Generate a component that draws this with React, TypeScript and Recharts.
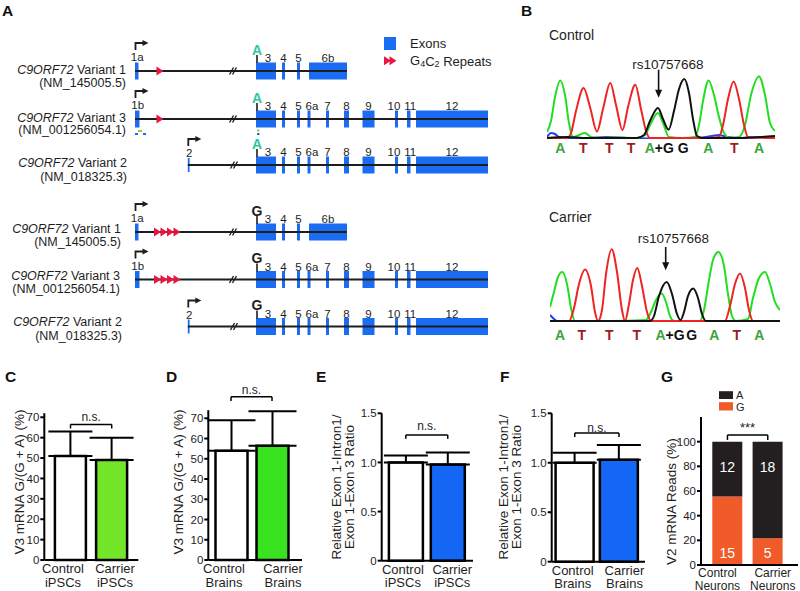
import React from 'react';
import {
  ComposedChart, LineChart, BarChart, Bar, Line, Scatter, XAxis, YAxis,
  ReferenceArea, ReferenceLine, ReferenceDot, ErrorBar, LabelList, Cell,
} from 'recharts';

const FONT = '"Liberation Sans", Arial, Helvetica, sans-serif';
const INK = '#1e1e1e';
const EXON_BLUE = '#1a6cf2';
const REPEAT_RED = '#e5173f';
const SNP_A = '#2fc79b';
const PRIMER_GREEN = '#9ad030';

// ---------------- Panel A: transcript diagrams ----------------
const trackNames = ['Variant 1', 'Variant 3', 'Variant 2', 'Variant 1', 'Variant 3', 'Variant 2'];
const trackAccessions = ['(NM_145005.5)', '(NM_001256054.1)', '(NM_018325.3)', '(NM_145005.5)', '(NM_001256054.1)', '(NM_018325.3)'];
const trackY = [71, 119, 165, 232, 279.5, 326.5];
const trackLayout = ['v1', 'v3', 'v2', 'v1', 'v3', 'v2'];
const trackAllele = ['A', 'A', 'A', 'G', 'G', 'G'];
const trackRepeatX = [[160], [160], [], [157.5, 164, 170.5, 177], [157.5, 164, 170.5, 177], []];
const trackLabelEnd = [126, 126, 127, 121, 120, 122];

const v1ExonNames = ['1a', '3', '4', '5', '6b'];
const v1ExonStart = [135, 256, 282, 297, 309];
const v1ExonEnd = [138.5, 276, 285, 300, 347];
const v3ExonNames = ['1b', '3', '4', '5', '6a', '7', '8', '9', '10', '11', '12'];
const v3ExonStart = [135, 256, 282, 297, 307.5, 326, 344, 362.5, 395, 407, 416];
const v3ExonEnd = [139.5, 276, 285, 300, 310.5, 329, 349, 374.5, 398, 410.5, 488];
const v2ExonNames = ['2', '3', '4', '5', '6a', '7', '8', '9', '10', '11', '12'];
const v2ExonStart = [187.8, 256, 282, 297, 307.5, 326, 344, 362.5, 395, 407, 416];
const v2ExonEnd = [189.6, 276, 285, 300, 310.5, 329, 349, 374.5, 398, 410.5, 488];
const exonLabelShift: Record<string, number> = { '3': 2, '6a': 3, '10': -2.5, '11': 1.5 };
const breakX: Record<string, number> = { v1: 232, v3: 232, v2: 233 };
const snpX = 257;

const primerX1 = [138, 135, 143, 257, 257];
const primerX2 = [142, 138, 146, 259.5, 259.5];
const primerY = [131, 134, 134, 130.5, 134];
const primerColor = [PRIMER_GREEN, EXON_BLUE, EXON_BLUE, PRIMER_GREEN, EXON_BLUE];

// ---------------- Panel B: chromatograms ----------------
const ctlGreen = [[0, 7], [4, 18], [8, 42], [13.3, 58.6], [18, 44], [22, 16], [26, 2], [32, 4], [38, 6], [44, 2], [52, 1], [70, 1.5], [90, 1], [98, 4], [104, 16], [111, 26], [116, 16], [122, 2], [135, 1], [148, 2], [152, 14], [156, 38], [161.6, 58.6], [167, 44], [172, 22], [177, 6], [183, 1], [192, 2], [198, 14], [204, 44], [212, 62.6], [218, 44], [223, 16], [228, 8]];
const ctlRed = [[0, 1], [20, 1], [24, 6], [29, 28], [36.6, 51], [43, 32], [50, 7.6], [56, 30], [63.3, 56], [69, 34], [75.5, 9], [81, 32], [88.3, 54.3], [94, 30], [99, 8], [103, 1], [130, 1], [160, 1], [172, 2], [176, 14], [181, 40], [186.6, 57.6], [192, 40], [197, 14], [201, 2], [228, 1]];
const ctlBlack = [[0, 1], [20, 2], [40, 1], [60, 1], [90, 1], [97, 4], [103, 18], [111, 31], [116, 20], [121.6, 9.3], [127, 28], [132, 50], [137.3, 60], [142, 46], [146, 20], [150, 3], [156, 1], [190, 1], [215, 2], [228, 3]];
const ctlBlue = [[0, 2], [4, 6], [8, 5], [12, 2], [18, 1], [40, 1], [60, 2], [80, 1], [120, 0.5], [150, 1], [165, 3], [172, 4], [180, 2], [195, 1], [210, 2], [228, 1]];
const ctlBasePos = [13.3, 36.3, 62.3, 84, 112.3, 136.3, 161.3, 187.3, 212];
const ctlBases = ['A', 'T', 'T', 'T', 'A+G', 'G', 'A', 'T', 'A'];

const carGreen = [[0, 15], [4, 30], [8, 45], [12.3, 50], [17, 38], [21, 14], [25, 1], [60, 1], [96, 2], [101, 10], [106, 22], [111.7, 28.4], [116, 20], [120, 6], [124, 1], [150, 1], [154, 12], [159, 42], [163, 62], [168.3, 70], [174, 56], [178, 28], [182, 6], [186, 1], [198, 3], [203, 24], [209, 44], [215, 50], [220, 38], [225, 20], [230, 12]];
const carRed = [[0, 1], [19, 1], [24, 14], [29, 38], [35, 52.4], [41, 36], [45, 10], [48, 1], [52, 12], [56, 48], [61.7, 72.7], [67, 50], [72, 12], [75, 1], [79, 18], [83, 42], [87.3, 54], [92, 36], [97, 10], [101, 1], [175, 1], [180, 16], [185, 38], [190, 48.4], [195, 34], [199, 12], [203, 1], [230, 1]];
const carBlack = [[0, 1], [100, 1], [104, 6], [109, 26], [116.7, 40], [122, 28], [127, 8], [130.5, 2], [134, 10], [138, 26], [143.3, 33.4], [148, 24], [152, 8], [156, 1], [230, 1]];
const carBlue = [[0, 7], [3, 4], [7, 1], [60, 1], [120, 1], [180, 1], [230, 1]];
const carBasePos = [10, 31.7, 59.3, 86.7, 120, 141.7, 164.3, 186.7, 209.3];
const carBases = ['A', 'T', 'T', 'T', 'A+G', 'G', 'A', 'T', 'A'];

const snpName = 'rs10757668';

// ---------------- Panels C–G: bar charts ----------------
const cCategories = ['Control iPSCs', 'Carrier iPSCs'];
const cValues = [51, 49];
const cErrors = [12, 11];
const dCategories = ['Control Brains', 'Carrier Brains'];
const dValues = [54, 56.5];
const dErrors = [15, 17];
const eCategories = ['Control iPSCs', 'Carrier iPSCs'];
const eValues = [1.0, 0.98];
const eErrors = [0.07, 0.12];
const fCategories = ['Control Brains', 'Carrier Brains'];
const fValues = [1.0, 1.03];
const fErrors = [0.1, 0.15];
const gCategories = ['Control Neurons', 'Carrier Neurons'];
const gReadsG = [15, 5];
const gReadsA = [12, 18];
const gPercentG = [55.6, 21.7];
const gPercentA = [44.4, 78.3];

const pctTicks = [0, 10, 20, 30, 40, 50, 60, 70];
const ratioTicks = [0, 0.5, 1.0, 1.5];
const readTicks = [0, 20, 40, 60, 80, 100];

// ---------------- shapes ----------------
const RepeatTriangle = (p: any) => {
  const { cx, cy } = p;
  return <polygon points={`${cx - 3.5},${cy - 4.5} ${cx + 3.5},${cy} ${cx - 3.5},${cy + 4.5}`} fill={REPEAT_RED} />;
};

const TssArrow = (p: any) => {
  const { cx, cy } = p;
  return (
    <g>
      <path d={`M${cx},${cy} V${cy - 7} H${cx + 8}`} stroke={INK} strokeWidth={1.8} fill="none" />
      <polygon points={`${cx + 7},${cy - 10} ${cx + 13},${cy - 7} ${cx + 7},${cy - 4}`} fill={INK} />
    </g>
  );
};

const TextMark = (p: any) => {
  const { cx, cy, payload } = p;
  return (
    <text x={cx} y={cy} textAnchor="middle" dominantBaseline="central" fontSize={payload.size || 11}
      fontWeight={payload.bold ? 700 : 400} fill={payload.color || INK} fontFamily={FONT}>
      {payload.t}
    </text>
  );
};

function layoutOf(k: string) {
  if (k === 'v1') return { names: v1ExonNames, starts: v1ExonStart, ends: v1ExonEnd };
  if (k === 'v3') return { names: v3ExonNames, starts: v3ExonStart, ends: v3ExonEnd };
  return { names: v2ExonNames, starts: v2ExonStart, ends: v2ExonEnd };
}

function PanelA() {
  const exonRects: any[] = [];
  const lines: any[] = [];
  const repeatPts: any[] = [];
  const textPts: any[] = [];
  const arrowPts: any[] = [];

  trackY.forEach((y, i) => {
    const lay = layoutOf(trackLayout[i]);
    const first = lay.starts[0];
    const last = lay.ends[lay.ends.length - 1];
    lines.push(
      <ReferenceLine key={`in${i}`} ifOverflow="visible" segment={[{ x: first, y }, { x: last, y }]} stroke={INK} strokeWidth={2} />
    );
    const bx = breakX[trackLayout[i]];
    [0, 3].forEach((o, j) =>
      lines.push(
        <ReferenceLine key={`br${i}-${j}`} ifOverflow="visible"
          segment={[{ x: bx - 2.5 + o, y: y + 3.5 }, { x: bx + 1.5 + o, y: y - 3.5 }]} stroke={INK} strokeWidth={1.4} />
      )
    );
    lines.push(
      <ReferenceLine key={`snp${i}`} ifOverflow="visible" segment={[{ x: snpX, y: y - 16 }, { x: snpX, y: y - 8 }]} stroke={INK} strokeWidth={1.6} />
    );
    lay.names.forEach((n, k) => {
      const isFirst = k === 0;
      const half = isFirst && trackLayout[i] === 'v2' ? 7 : 8.5;
      exonRects.push(
        <ReferenceArea key={`ex${i}-${k}`} ifOverflow="visible" x1={lay.starts[k]} x2={lay.ends[k]} y1={y - half} y2={y + half}
          fill={EXON_BLUE} fillOpacity={1} stroke="none" />
      );
      const cx = (lay.starts[k] + lay.ends[k]) / 2 + (exonLabelShift[n] || 0);
      textPts.push({ x: isFirst ? cx + 0.5 : cx, y: isFirst ? y - (trackLayout[i] === 'v2' ? 12 : 14) : y - 13, t: n, size: 11.5 });
    });
    arrowPts.push({ x: lay.starts[0] + 0.5, y: y - (trackLayout[i] === 'v2' ? 19 : 21) });
    textPts.push({ x: snpX, y: y - 21.5, t: trackAllele[i], size: 14, bold: true, color: trackAllele[i] === 'A' ? SNP_A : INK });
    trackRepeatX[i].forEach((rx) => repeatPts.push({ x: rx, y }));
  });

  // legend
  repeatPts.push({ x: 387.5, y: 60.7 }, { x: 393, y: 60.7 });

  primerX1.forEach((x1, k) =>
    exonRects.push(
      <ReferenceArea key={`pr${k}`} ifOverflow="visible" x1={x1} x2={primerX2[k]} y1={primerY[k] - 1} y2={primerY[k] + 1}
        fill={primerColor[k]} fillOpacity={1} stroke="none" />
    )
  );

  return (
    <div style={{ position: 'absolute', left: 0, top: 0 }}>
      <ComposedChart width={520} height={345} margin={{ top: 0, right: 0, bottom: 0, left: 0 }}>
        <XAxis type="number" dataKey="x" domain={[0, 520]} hide />
        <YAxis type="number" dataKey="y" domain={[0, 345]} reversed hide />
        {lines}
        {exonRects}
        <ReferenceArea ifOverflow="visible" x1={384} x2={396} y1={37} y2={50} fill={EXON_BLUE} fillOpacity={1} stroke="none" />
        <Scatter data={repeatPts} shape={RepeatTriangle} isAnimationActive={false} />
        <Scatter data={arrowPts} shape={TssArrow} isAnimationActive={false} />
        <Scatter data={textPts} shape={TextMark} isAnimationActive={false} />
      </ComposedChart>
    </div>
  );
}

// ---------------- Chromatogram ----------------
const baseColor = (b: string) => (b === 'A' ? '#3ba43b' : b === 'T' ? '#9e1c1c' : '#111');

function makeBaseTick(pos: number[], letters: string[], dy: number) {
  return (props: any) => {
    const { x, y, payload } = props;
    let idx = pos.findIndex((p) => Math.abs(p - payload.value) < 0.01);
    if (idx < 0) idx = 0;
    const l = letters[idx];
    if (l === 'A+G') {
      return (
        <text x={x} y={y + dy} textAnchor="middle" dominantBaseline="central" fontSize={14} fontWeight={700} fontFamily={FONT}>
          <tspan fill={baseColor('A')}>A</tspan>
          <tspan fill="#111">+G</tspan>
        </text>
      );
    }
    return (
      <text x={x} y={y + dy} textAnchor="middle" dominantBaseline="central" fontSize={14} fontWeight={700} fill={baseColor(l)} fontFamily={FONT}>
        {l}
      </text>
    );
  };
}

const toPts = (a: number[][]) => a.map(([x, h]) => ({ x, h }));

function Chromatogram(props: any) {
  const { left, top, width, height, mTop, xH, yMax, traces, basePos, bases, letterDy, snp } = props;
  const Tick = makeBaseTick(basePos, bases, letterDy);
  const SnpShape = (p: any) => {
    const { cx, cy } = p;
    const top0 = cy - snp.len;
    return (
      <g>
        <line x1={cx} y1={top0} x2={cx} y2={cy - 6} stroke="#111" strokeWidth={1.6} />
        <polygon points={`${cx - 3.5},${cy - 8} ${cx + 3.5},${cy - 8} ${cx},${cy}`} fill="#111" />
        <text x={cx + snp.tdx} y={top0 - snp.tgap} textAnchor="middle" dominantBaseline="central" fontSize={13.5} fill={INK} fontFamily={FONT}>
          {snpName}
        </text>
      </g>
    );
  };
  return (
    <div style={{ position: 'absolute', left, top }}>
      <LineChart width={width} height={height} margin={{ top: mTop, right: 0, bottom: 0, left: 0 }}>
        <XAxis type="number" dataKey="x" domain={[0, width]} ticks={basePos} interval={0} height={xH}
          axisLine={false} tickLine={false} tickSize={0} tickMargin={0} tick={<Tick />} allowDataOverflow />
        <YAxis type="number" domain={[0, yMax]} hide allowDataOverflow />
        {traces.map((t: any, i: number) => (
          <Line key={i} data={toPts(t.pts)} dataKey="h" type="monotone" stroke={t.color} strokeWidth={2}
            dot={false} activeDot={false} isAnimationActive={false} />
        ))}
        <ReferenceDot x={snp.x} y={snp.h} r={0} ifOverflow="visible" shape={<SnpShape />} />
      </LineChart>
    </div>
  );
}

// ---------------- Bar panels ----------------
function makeTwoLineTick(cats: string[], shifts: number[], d1: number, d2: number, size: number) {
  return (props: any) => {
    const { x, y, payload } = props;
    const idx = Math.max(0, cats.indexOf(String(payload.value)));
    const parts = String(payload.value).split(' ');
    const cx = x + shifts[idx];
    return (
      <g>
        <text x={cx} y={y + d1} textAnchor="middle" dominantBaseline="central" fontSize={size} fill={INK} fontFamily={FONT}>{parts[0]}</text>
        <text x={cx} y={y + d2} textAnchor="middle" dominantBaseline="central" fontSize={size} fill={INK} fontFamily={FONT}>{parts[1]}</text>
      </g>
    );
  };
}

const yTickStyle = { fontSize: 11.5, fill: INK, fontFamily: FONT };
const axisStroke = { stroke: '#000', strokeWidth: 2 };

function bracketLines(cats: string[], y: number, drop: number, label: string, size: number, offset: number) {
  return [
    <ReferenceLine key="bh" ifOverflow="visible" segment={[{ x: cats[0], y }, { x: cats[1], y }]} stroke="#000" strokeWidth={1.5}
      label={{ value: label, position: 'top', offset, fontSize: size, fill: INK, fontFamily: FONT }} />,
    <ReferenceLine key="bl" ifOverflow="visible" segment={[{ x: cats[0], y }, { x: cats[0], y: y - drop }]} stroke="#000" strokeWidth={1.5} />,
    <ReferenceLine key="br" ifOverflow="visible" segment={[{ x: cats[1], y }, { x: cats[1], y: y - drop }]} stroke="#000" strokeWidth={1.5} />,
  ];
}

function BarPanel(props: any) {
  const { left, top, width, height, mTop, mRight, yW, xH, domain, ticks, fmt, cats, values, errors, fills, barSize, pad, capW, bY, bDrop, bOff, labelShift } = props;
  const rows = cats.map((c: string, i: number) => ({ name: c, v: values[i], err: [0, errors[i]] }));
  const Tick = makeTwoLineTick(cats, labelShift, 8.5, 22, 13);
  return (
    <div style={{ position: 'absolute', left, top }}>
      <BarChart width={width} height={height} data={rows} margin={{ top: mTop, right: mRight, left: 0, bottom: 0 }}>
        <XAxis dataKey="name" type="category" height={xH} padding={{ left: pad[0], right: pad[1] }} axisLine={axisStroke}
          tickLine={false} tickSize={0} tickMargin={0} tick={<Tick />} interval={0} />
        <YAxis type="number" width={yW} domain={domain} ticks={ticks} interval={0} tickFormatter={fmt}
          axisLine={axisStroke} tickLine={axisStroke} tickSize={4} tickMargin={1} tick={yTickStyle} />
        <Bar dataKey="v" barSize={barSize} stroke="#000" strokeWidth={2.5} isAnimationActive={false}>
          {rows.map((r: any, i: number) => <Cell key={i} fill={fills[i]} />)}
          <ErrorBar dataKey="err" width={capW} stroke="#000" strokeWidth={2} direction="y" />
        </Bar>
        {bracketLines(cats, bY, bDrop, 'n.s.', 12, bOff)}
      </BarChart>
    </div>
  );
}

const ratioFmt = (v: number) => (v === 0 ? '0' : v.toFixed(1));

function PanelG() {
  const rows = gCategories.map((c, i) => ({ name: c, g: gPercentG[i], a: gPercentA[i], gn: gReadsG[i], an: gReadsA[i] }));
  const TopLabel = (p: any) => (
    <text x={p.x + p.width / 2} y={p.y + 25} textAnchor="middle" dominantBaseline="central" fontSize={14} fill="#fff" fontFamily={FONT}>{p.value}</text>
  );
  const BottomLabel = (p: any) => (
    <text x={p.x + p.width / 2} y={p.y + p.height - 12.5} textAnchor="middle" dominantBaseline="central" fontSize={14} fill="#fff" fontFamily={FONT}>{p.value}</text>
  );
  const Tick = makeTwoLineTick(gCategories, [-10, 5], 8, 20.5, 12);
  return (
    <div style={{ position: 'absolute', left: 660, top: 395 }}>
      <BarChart width={140} height={196} data={rows} margin={{ top: 22, right: 2, left: 0, bottom: 0 }}>
        <XAxis dataKey="name" type="category" height={26} padding={{ left: 6.3, right: 10.1 }} axisLine={axisStroke}
          tickLine={false} tickSize={0} tickMargin={0} tick={<Tick />} interval={0} />
        <YAxis type="number" width={41} domain={[0, 120]} ticks={readTicks} interval={0}
          axisLine={axisStroke} tickLine={axisStroke} tickSize={4} tickMargin={1} tick={yTickStyle} />
        <Bar dataKey="g" stackId="s" barSize={30} fill="#f15a29" isAnimationActive={false}>
          <LabelList dataKey="gn" content={<BottomLabel />} />
        </Bar>
        <Bar dataKey="a" stackId="s" barSize={30} fill="#231f20" isAnimationActive={false}>
          <LabelList dataKey="an" content={<TopLabel />} />
        </Bar>
        {bracketLines(gCategories, 105.4, 4, '***', 13, 3)}
      </BarChart>
    </div>
  );
}

// ---------------- Overlay text ----------------
function Overlay() {
  const letter = (t: string, x: number, y: number) => (
    <text key={t} x={x} y={y} fontSize={15.5} fontWeight={700} fill="#111" dominantBaseline="central">{t}</text>
  );
  const vtitle = (key: string, t: string, x: number, y: number, size = 13.5) => (
    <text key={key} transform={`translate(${x},${y}) rotate(-90)`} textAnchor="middle" dominantBaseline="central" fontSize={size} fill={INK}>{t}</text>
  );
  const nameY = [70, 117.5, 162.5, 229, 275.5, 322];
  const accY = [82.5, 130, 176.5, 242, 288.5, 336];
  return (
    <svg width={800} height={591} style={{ position: 'absolute', left: 0, top: 0, pointerEvents: 'none' }} fontFamily={FONT}>
      {letter('A', 2, 10)}
      {letter('B', 521, 10)}
      {letter('C', 5, 376)}
      {letter('D', 166, 376)}
      {letter('E', 316, 376)}
      {letter('F', 500, 376)}
      {letter('G', 661, 376)}
      {trackNames.map((n, i) => (
        <g key={`tn${i}`}>
          <text x={trackLabelEnd[i]} y={nameY[i]} textAnchor="end" dominantBaseline="central" fontSize={12.5} fill={INK}>
            <tspan fontStyle="italic">C9ORF72</tspan>
            <tspan>{' ' + n}</tspan>
          </text>
          <text x={trackLabelEnd[i]} y={accY[i]} textAnchor="end" dominantBaseline="central" fontSize={12.5} fill={INK}>{trackAccessions[i]}</text>
        </g>
      ))}
      <text x={410} y={43.5} dominantBaseline="central" fontSize={13} fill={INK}>Exons</text>
      <text x={410} y={60.7} dominantBaseline="central" fontSize={13} fill={INK}>
        G<tspan fontSize={9} dy={3}>4</tspan><tspan dy={-3}>C</tspan><tspan fontSize={9} dy={3}>2</tspan><tspan dy={-3}> Repeats</tspan>
      </text>
      <text x={549} y={35} dominantBaseline="central" fontSize={14} fill={INK}>Control</text>
      <text x={549} y={216.7} dominantBaseline="central" fontSize={14} fill={INK}>Carrier</text>
      {vtitle('yc', 'V3 mRNA G/(G + A) (%)', 19.5, 482)}
      {vtitle('yd', 'V3 mRNA G/(G + A) (%)', 178, 482)}
      {vtitle('ye1', 'Relative Exon 1-Intron1/', 336.7, 487)}
      {vtitle('ye2', 'Exon 1-Exon 3 Ratio', 349, 487)}
      {vtitle('yf1', 'Relative Exon 1-Intron1/', 503, 487)}
      {vtitle('yf2', 'Exon 1-Exon 3 Ratio', 516.7, 487)}
      {vtitle('yg', 'V2 mRNA Reads (%)', 671.7, 501.7)}
      <rect x={719} y={391.2} width={14} height={7.8} fill="#231f20" />
      <rect x={719} y={402.2} width={14} height={8.3} fill="#f15a29" />
      <text x={736} y={394.5} dominantBaseline="central" fontSize={11} fill={INK}>A</text>
      <text x={736} y={406.7} dominantBaseline="central" fontSize={11} fill={INK}>G</text>
    </svg>
  );
}

export default function App() {
  return (
    <div style={{ position: 'absolute', left: 0, top: 0, width: 800, height: 591, background: '#fff', overflow: 'hidden', fontFamily: FONT }}>
      <PanelA />
      <Chromatogram left={546.7} top={55.3} width={228} height={100} mTop={15} xH={16} yMax={69}
        traces={[{ color: '#2a3cf0', pts: ctlBlue }, { color: '#22dd22', pts: ctlGreen }, { color: '#ee2424', pts: ctlRed }, { color: '#111', pts: ctlBlack }]}
        basePos={ctlBasePos} bases={ctlBases} letterDy={9}
        snp={{ x: 111.6, h: 41.3, len: 28, tdx: 9.2, tgap: 5 }} />
      <Chromatogram left={550} top={226.7} width={230} height={115} mTop={20} xH={20} yMax={75}
        traces={[{ color: '#2a3cf0', pts: carBlue }, { color: '#22dd22', pts: carGreen }, { color: '#ee2424', pts: carRed }, { color: '#111', pts: carBlack }]}
        basePos={carBasePos} bases={carBases} letterDy={13.3}
        snp={{ x: 115.7, h: 51.7, len: 23.3, tdx: 7.6, tgap: 8.4 }} />
      <BarPanel left={0} top={395} width={145} height={196} mTop={18.2} mRight={6.7} yW={44.3} xH={31}
        domain={[0, 72]} ticks={pctTicks} cats={cCategories} values={cValues} errors={cErrors}
        fills={['#ffffff', '#74e62a']} barSize={31} pad={[5.6, 6]} capW={22} bY={66.5} bDrop={2} bOff={3}
        labelShift={[-7.5, 3.3]} />
      <BarPanel left={165} top={375} width={140} height={216} mTop={35.2} mRight={3} yW={43.3} xH={31}
        domain={[0, 74]} ticks={pctTicks} cats={dCategories} values={dValues} errors={dErrors}
        fills={['#ffffff', '#39e31f']} barSize={32} pad={[2.2, 9.5]} capW={24} bY={80.7} bDrop={2.2} bOff={3}
        labelShift={[-7, 11]} />
      <BarPanel left={320} top={395} width={153.3} height={196} mTop={18.3} mRight={0} yW={61.7} xH={30.3}
        domain={[0, 1.5]} ticks={ratioTicks} fmt={ratioFmt} cats={eCategories} values={eValues} errors={eErrors}
        fills={['#ffffff', '#1466f5']} barSize={34} pad={[3.2, 4.6]} capW={22} bY={1.28} bDrop={0.04} bOff={5}
        labelShift={[-3, 4.5]} />
      <BarPanel left={490} top={395} width={155} height={196} mTop={18.3} mRight={0} yW={61.7} xH={29.3}
        domain={[0, 1.5]} ticks={ratioTicks} fmt={ratioFmt} cats={fCategories} values={fValues} errors={fErrors}
        fills={['#ffffff', '#1466f5']} barSize={38} pad={[0.9, 3.9]} capW={22} bY={1.3} bDrop={0.04} bOff={1}
        labelShift={[-2, 5.5]} />
      <PanelG />
      <Overlay />
    </div>
  );
}
